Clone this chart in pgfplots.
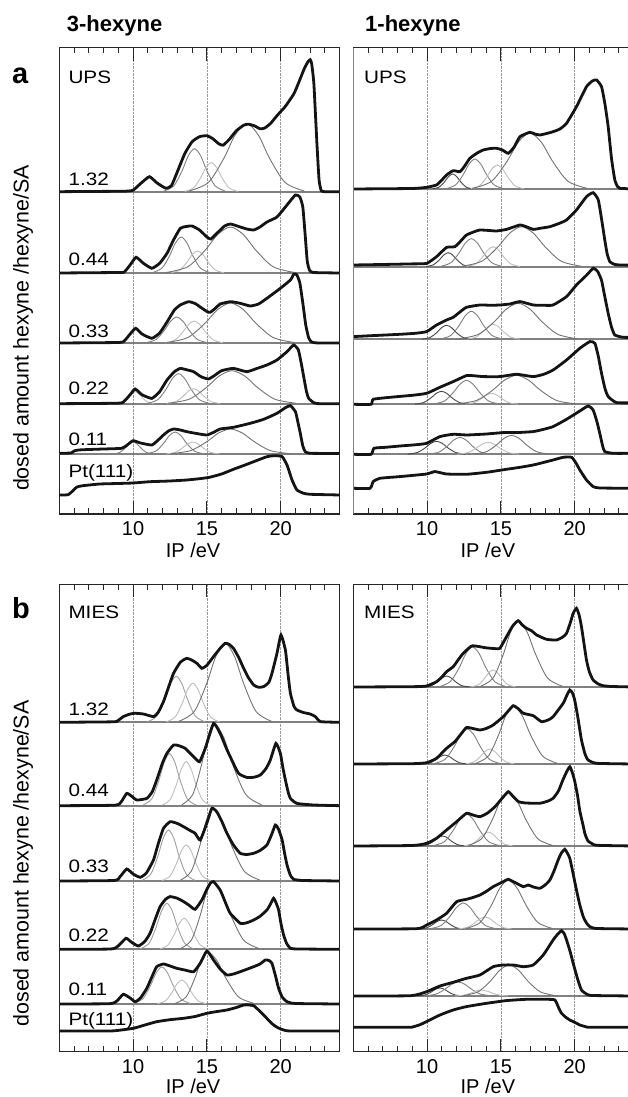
\documentclass[border=0pt]{standalone}
\usepackage{pgfplots}
\pgfplotsset{compat=1.18}
\usepackage{fontspec}
\setmainfont{Liberation Sans}
\newfontfamily\widesans{Liberation Sans}[FakeStretch=1.15]
\newcommand{\lab}{\widesans\fontsize{18}{21}\selectfont}
\tikzset{txt/.style={anchor=base west, inner sep=0pt, font=\lab}}
\begin{document}
\begin{tikzpicture}[x=1pt,y=1pt]
\useasboundingbox (0pt,0pt) rectangle (627pt,1097pt);
\pgfplotsset{
 panel/.style={scale only axis, width=280.4pt, anchor=south west, xmin=5, xmax=24, ymin=0,
   xtick={10,15,20}, minor xtick={6,7,8,9,11,12,13,14,16,17,18,19,21,22,23},
   ytick=\empty, tick align=inside,
   major tick length=13pt, minor tick length=5.7pt,
   xmajorgrids, major grid style={densely dotted, black!40, line width=0.7pt},
   axis line style={black!85, line width=1.3pt},
   tick style={black!85, line width=1pt},
   xticklabel style={font=\fontsize{20}{24}\selectfont, yshift=-4.5pt},
   /pgf/number format/assume math mode=true,
   xlabel={IP /eV},
   xlabel style={font=\fontsize{20}{24}\selectfont, at={(axis description cs:0.477,0)}, anchor=base, yshift=-44pt},
 },
 off/.style={y filter/.expression={y+#1}},
 spec/.style={black!92, line width=2.8pt, smooth, tension=0.3},
 sep/.style={black!50, line width=1.8pt},
 gd/.style={black!72, line width=0.9pt, smooth},
 gm/.style={black!50, line width=0.9pt, smooth},
 gml/.style={black!38, line width=0.9pt, smooth},
 gl/.style={black!26, line width=0.9pt, smooth},
 gb/.style={black!55, line width=0.9pt, smooth},
}
% ---------------- titles and y labels
\node[anchor=base west, inner sep=0pt, font=\bfseries\fontsize{22}{24}\selectfont] at (66.7pt,1065.3pt) {3-hexyne};
\node[anchor=base west, inner sep=0pt, font=\bfseries\fontsize{22}{24}\selectfont] at (365pt,1065.3pt) {1-hexyne};
\node[anchor=base west, inner sep=0pt, font=\bfseries\fontsize{29}{30}\selectfont] at (12pt,1013.7pt) {a};
\node[anchor=base west, inner sep=0pt, font=\bfseries\fontsize{29}{30}\selectfont] at (12pt,478.7pt) {b};
\node[rotate=90, inner sep=0pt, font=\fontsize{21.4}{24}\selectfont] at (23pt,769pt) {dosed amount hexyne /hexyne/SA};
\node[rotate=90, inner sep=0pt, font=\fontsize{21.4}{24}\selectfont] at (23pt,233.5pt) {dosed amount hexyne /hexyne/SA};

% ================= panel a, 3-hexyne UPS
\begin{axis}[panel, at={(59.3pt,583pt)}, height=466.3pt, ymax=466.3]
\addplot[sep] coordinates {(5,322.3) (24,322.3)};
\addplot[sep] coordinates {(5,241) (24,241)};
\addplot[sep] coordinates {(5,171) (24,171)};
\addplot[sep] coordinates {(5,110.3) (24,110.3)};
\addplot[sep] coordinates {(5,60) (24,60)};
% row 1.32
\addplot[gm,off=322.3] coordinates {(12.06,0.5) (12.76,5.8) (13.32,20.9) (13.74,35.9) (14.16,43) (14.58,35.9) (15.0,20.9) (15.56,5.8) (16.26,0.5)};
\addplot[gl,off=322.3] coordinates {(13.5,0.3) (14.1,3.9) (14.58,14.1) (14.94,24.2) (15.3,29) (15.66,24.2) (16.02,14.1) (16.5,3.9) (17.1,0.3)};
\addplot[gb,off=322.3] coordinates {(13.8,0.7) (15.1,9.2) (16.14,33.1) (16.92,56.8) (17.7,68) (18.48,56.8) (19.26,33.1) (20.3,9.2) (21.6,0.7)};
\addplot[spec,off=322.3] coordinates {(5,0) (8,0.3) (9.5,0.5) (10,1.5) (10.5,8) (11.1,15) (11.6,9) (12.2,3.5) (12.6,6) (13.0,20) (13.5,38) (14.0,50) (14.5,55) (15.0,56) (15.4,53) (15.8,48) (16.1,46.5) (16.5,52) (17.0,61) (17.5,66.5) (17.8,67.5) (18.2,66) (18.6,63) (18.9,63.5) (19.3,68) (19.75,76) (20.3,85) (20.9,98) (21.3,112) (21.6,123) (21.85,130) (22.0,132) (22.1,128) (22.25,108) (22.45,50) (22.6,12) (22.75,1) (23,0) (24,0)};
% row 0.44
\addplot[gm,off=241] coordinates {(11.31,0.4) (11.96,4.9) (12.48,17.5) (12.87,30.1) (13.26,36) (13.65,30.1) (14.04,17.5) (14.56,4.9) (15.21,0.4)};
\addplot[gl,off=241] coordinates {(12.57,0.2) (13.17,3) (13.65,10.7) (14.01,18.4) (14.37,22) (14.73,18.4) (15.09,10.7) (15.57,3) (16.17,0.2)};
\addplot[gb,off=241] coordinates {(12.25,0.5) (13.7,6.2) (14.86,22.4) (15.73,38.4) (16.6,46) (17.47,38.4) (18.34,22.4) (19.5,6.2) (20.95,0.5)};
\addplot[spec,off=241] coordinates {(5,0) (9.0,0.5) (9.4,1) (9.8,8) (10.2,15.7) (10.7,9.7) (11.27,4.7) (11.8,9.7) (12.3,19.7) (12.74,33) (13.2,44.7) (13.6,46.5) (14.0,47) (14.5,43) (15.0,36) (15.27,34) (15.7,40) (16.2,47) (16.6,49) (17.26,46) (17.7,44) (18.17,43) (18.6,46) (19.07,51) (19.75,56) (20.43,68) (21.0,78) (21.3,76) (21.5,66) (21.65,40) (21.8,12) (21.95,3) (22.2,0.5) (24,0)};
% row 0.33
\addplot[gm,off=171] coordinates {(10.86,0.3) (11.56,3.5) (12.12,12.7) (12.54,21.7) (12.96,26) (13.38,21.7) (13.8,12.7) (14.36,3.5) (15.06,0.3)};
\addplot[gl,off=171] coordinates {(12.19,0.2) (12.84,3) (13.36,10.7) (13.75,18.4) (14.14,22) (14.53,18.4) (14.92,10.7) (15.44,3) (16.09,0.2)};
\addplot[gb,off=171] coordinates {(12.25,0.4) (13.7,5.4) (14.86,19.5) (15.73,33.4) (16.6,40) (17.47,33.4) (18.34,19.5) (19.5,5.4) (20.95,0.4)};
\addplot[spec,off=171] coordinates {(5,0) (9.0,0.5) (9.4,2) (9.8,9) (10.18,14.7) (10.6,9) (11.27,4.7) (11.8,10) (12.3,21) (12.8,33) (13.2,38) (13.76,41.3) (14.2,39.5) (14.55,36) (15.0,31.5) (15.23,30.7) (15.6,35) (15.9,39) (16.6,41.3) (17.26,39.7) (17.94,37) (18.5,39) (19.07,44.7) (19.98,54.7) (20.66,63) (20.9,69) (21.1,68) (21.3,60) (21.5,40) (21.7,18) (21.9,5) (22.1,1) (22.5,0) (24,0)};
% row 0.22
\addplot[gl,off=110.3] coordinates {(8.88,0.1) (9.3,1.6) (9.64,5.8) (9.89,10) (10.14,12) (10.39,10) (10.64,5.8) (10.98,1.6) (11.4,0.1)};
\addplot[gm,off=110.3] coordinates {(10.98,0.3) (11.68,4.1) (12.24,14.6) (12.66,25.1) (13.08,30) (13.5,25.1) (13.92,14.6) (14.48,4.1) (15.18,0.3)};
\addplot[gl,off=110.3] coordinates {(12.3,0.2) (12.9,2) (13.38,7.3) (13.74,12.5) (14.1,15) (14.46,12.5) (14.82,7.3) (15.3,2) (15.9,0.2)};
\addplot[gb,off=110.3] coordinates {(12.35,0.4) (13.8,4.5) (14.96,16.1) (15.83,27.6) (16.7,33) (17.57,27.6) (18.44,16.1) (19.6,4.5) (21.05,0.4)};
\addplot[spec,off=110.3] coordinates {(5,0) (9.0,0.5) (9.4,2.5) (9.8,9) (10.14,14.7) (10.6,9) (11.27,5.3) (11.8,12) (12.3,23.7) (12.8,32) (13.2,35.3) (13.6,34) (14.1,32) (14.6,27) (15.1,24.7) (15.5,28) (16.0,33) (16.8,35.3) (17.7,32) (18.4,35.3) (19.07,38.7) (19.75,43.7) (20.43,52) (20.88,58.7) (21.2,53.7) (21.4,40) (21.56,27) (21.75,12) (21.9,5.3) (22.24,1) (22.6,0) (24,0)};
% row 0.11
\addplot[gm,off=60] coordinates {(8.65,0.1) (9.1,1.6) (9.46,5.8) (9.73,10) (10.0,12) (10.27,10) (10.54,5.8) (10.9,1.6) (11.35,0.1)};
\addplot[gm,off=60] coordinates {(10.9,0.2) (11.55,3) (12.07,10.7) (12.46,18.4) (12.85,22) (13.24,18.4) (13.63,10.7) (14.15,3) (14.8,0.2)};
\addplot[gl,off=60] coordinates {(12.25,0.1) (12.85,1.6) (13.33,5.8) (13.69,10) (14.05,12) (14.41,10) (14.77,5.8) (15.25,1.6) (15.85,0.1)};
\addplot[gb,off=60] coordinates {(12.55,0.3) (13.9,3.4) (14.98,12.2) (15.79,20.9) (16.6,25) (17.41,20.9) (18.22,12.2) (19.3,3.4) (20.65,0.3)};
\addplot[spec,off=60] coordinates {(5,0.7) (5.8,1) (6.0,3) (6.3,4) (7,4.5) (8,5) (9.23,5.7) (9.6,9) (10.0,13.3) (10.5,11) (11.27,9) (11.7,14) (12.06,19) (12.4,23) (12.74,25) (13.2,24) (13.64,22.3) (14.3,20.5) (15.0,19) (15.5,22) (15.9,25) (16.8,26.7) (17.94,30.7) (18.85,34.7) (19.75,40.7) (20.32,46.3) (20.66,48.3) (21.0,42.3) (21.15,33) (21.33,20.7) (21.5,8) (21.67,2.3) (22.0,0.7) (24,0.5)};
% Pt(111)
\addplot[spec,off=19] coordinates {(5,0) (5.6,0.3) (5.9,4) (6.2,8) (6.6,9.3) (7.76,11) (9,11.5) (10,12) (11.15,13.3) (12.5,14) (13.64,15) (14.5,16.3) (15.18,17.7) (16,21) (16.8,25.7) (17.5,29.5) (18.17,33.3) (19.07,38.3) (19.6,39.3) (20.1,38.3) (20.43,30) (20.77,15) (21.1,5) (21.56,1.7) (22,0.7) (24,0)};
\node[txt] at (axis cs:5.61,430.7) {UPS};
\node[txt] at (axis cs:5.61,328) {1.32};
\node[txt] at (axis cs:5.61,248.3) {0.44};
\node[txt] at (axis cs:5.61,176.7) {0.33};
\node[txt] at (axis cs:5.61,119) {0.22};
\node[txt] at (axis cs:5.61,68.3) {0.11};
\node[txt] at (axis cs:5.61,36.7) {Pt(111)};
\end{axis}

% ================= panel a, 1-hexyne UPS
\begin{axis}[panel, at={(353.3pt,583pt)}, height=466.3pt, ymax=466.3, xlabel style={at={(axis description cs:0.48,0)}}]
\addplot[sep] coordinates {(5,325) (24,325)};
\addplot[sep] coordinates {(5,247.3) (24,247.3)};
\addplot[sep] coordinates {(5,174.7) (24,174.7)};
\addplot[sep] coordinates {(5,109.7) (24,109.7)};
\addplot[sep] coordinates {(5,59.7) (24,59.7)};
% row 1.32
\addplot[gd,off=325] coordinates {(10.38,0.2) (10.83,2) (11.19,7.3) (11.46,12.5) (11.73,15) (12.0,12.5) (12.27,7.3) (12.63,2) (13.08,0.2)};
\addplot[gm,off=325] coordinates {(11.29,0.3) (11.94,4.1) (12.46,14.6) (12.85,25.1) (13.24,30) (13.63,25.1) (14.02,14.6) (14.54,4.1) (15.19,0.3)};
\addplot[gl,off=325] coordinates {(12.95,0.3) (13.55,3.2) (14.03,11.7) (14.39,20) (14.75,24) (15.11,20) (15.47,11.7) (15.95,3.2) (16.55,0.3)};
\addplot[gb,off=325] coordinates {(13.06,0.6) (14.36,7.6) (15.4,27.3) (16.18,46.8) (16.96,56) (17.74,46.8) (18.52,27.3) (19.56,7.6) (20.86,0.6)};
\addplot[spec,off=325] coordinates {(5,0) (9.0,0.5) (9.97,1.7) (10.64,4) (11.0,9) (11.32,14) (11.77,18.3) (12.22,17.3) (12.5,22) (12.9,30.7) (13.4,36) (13.8,39) (14.3,40.5) (14.7,40.7) (15.1,39) (15.5,35.7) (15.9,42) (16.29,52.3) (16.96,56.7) (17.3,55) (17.64,54) (18.1,55.5) (18.54,57.3) (19.0,60) (19.45,65.7) (20.12,82.3) (20.8,102.3) (21.2,108) (21.48,109) (21.82,102.3) (22.05,85) (22.27,62.3) (22.5,30) (22.72,9) (22.9,2.5) (23.06,0.7) (24,0)};
% row 0.44
\addplot[gd,off=247.3] coordinates {(9.93,0.2) (10.43,1.9) (10.83,6.8) (11.13,11.7) (11.43,14) (11.73,11.7) (12.03,6.8) (12.43,1.9) (12.93,0.2)};
\addplot[gm,off=247.3] coordinates {(10.9,0.3) (11.6,3.8) (12.16,13.6) (12.58,23.4) (13.0,28) (13.42,23.4) (13.84,13.6) (14.4,3.8) (15.1,0.3)};
\addplot[gl,off=247.3] coordinates {(12.68,0.2) (13.28,2.7) (13.76,9.7) (14.12,16.7) (14.48,20) (14.84,16.7) (15.2,9.7) (15.68,2.7) (16.28,0.2)};
\addplot[gb,off=247.3] coordinates {(12.35,0.4) (13.7,5.4) (14.78,19.5) (15.59,33.4) (16.4,40) (17.21,33.4) (18.02,19.5) (19.1,5.4) (20.45,0.4)};
\addplot[spec,off=247.3] coordinates {(5,1.7) (7,2.2) (9.0,2.8) (9.97,3.3) (10.64,10) (11.32,19.3) (11.88,20) (12.3,26) (12.67,31.7) (13.2,35) (13.58,36.7) (14.2,36.2) (14.7,35.7) (15.38,37.3) (16.29,41.7) (16.8,39.5) (17.19,37.3) (17.7,38.5) (18.32,40) (18.9,43) (19.45,46.7) (20.12,56.7) (20.8,70) (21.25,74) (21.6,66.7) (21.85,45) (22.04,26.7) (22.2,13) (22.38,5) (22.7,2.3) (23.06,1.7) (24,1.5)};
% row 0.33
\addplot[gd,off=174.7] coordinates {(9.67,0.2) (10.22,1.9) (10.66,6.8) (10.99,11.7) (11.32,14) (11.65,11.7) (11.98,6.8) (12.42,1.9) (12.97,0.2)};
\addplot[gm,off=174.7] coordinates {(10.9,0.3) (11.6,3.8) (12.16,13.6) (12.58,23.4) (13.0,28) (13.42,23.4) (13.84,13.6) (14.4,3.8) (15.1,0.3)};
\addplot[gl,off=174.7] coordinates {(12.68,0.2) (13.28,2) (13.76,7.3) (14.12,12.5) (14.48,15) (14.84,12.5) (15.2,7.3) (15.68,2) (16.28,0.2)};
\addplot[gb,off=174.7] coordinates {(12.12,0.4) (13.47,4.9) (14.55,17.5) (15.36,30.1) (16.17,36) (16.98,30.1) (17.79,17.5) (18.87,4.9) (20.22,0.4)};
\addplot[spec,off=174.7] coordinates {(5,2.7) (6.5,3.8) (8.16,5) (9.2,6) (9.97,7.7) (10.64,14.3) (11.32,19.3) (11.77,22) (12.2,27) (12.67,32) (13.58,34.3) (14.3,34) (14.93,34.3) (15.61,35.3) (16.29,37.7) (17.19,34.3) (17.9,34) (18.54,34.3) (19.45,42.7) (20.12,54.3) (20.8,64) (21.26,71) (21.55,68) (21.82,59) (22.05,42) (22.27,26) (22.5,12) (22.72,4.3) (23.28,2) (24,2)};
% row 0.22
\addplot[gd,off=109.7] coordinates {(9.18,0.1) (9.78,1.8) (10.26,6.3) (10.62,10.9) (10.98,13) (11.34,10.9) (11.7,6.3) (12.18,1.8) (12.78,0.1)};
\addplot[gm,off=109.7] coordinates {(10.42,0.3) (11.17,3.2) (11.77,11.7) (12.22,20) (12.67,24) (13.12,20) (13.57,11.7) (14.17,3.2) (14.92,0.3)};
\addplot[gl,off=109.7] coordinates {(12.57,0.1) (13.17,1.5) (13.65,5.4) (14.01,9.2) (14.37,11) (14.73,9.2) (15.09,5.4) (15.57,1.5) (16.17,0.1)};
\addplot[gb,off=109.7] coordinates {(12.01,0.3) (13.36,3.9) (14.44,14.1) (15.25,24.2) (16.06,29) (16.87,24.2) (17.68,14.1) (18.76,3.9) (20.11,0.3)};
\addplot[spec,off=109.7] coordinates {(5,0) (6.2,0) (6.35,5) (7.5,7) (9.0,9) (9.97,11) (10.87,17) (11.77,22.7) (12.67,28.7) (13.2,28.5) (13.8,27.7) (14.93,27.7) (16.06,30) (17.19,27.7) (17.9,30) (18.54,34.3) (19.45,44.3) (20.35,56) (21.03,62.7) (21.37,61) (21.6,48) (21.82,31) (22.05,16) (22.27,7.7) (22.83,1.7) (24,1.5)};
% row 0.11
\addplot[gd,off=59.7] coordinates {(8.69,0.1) (9.34,1.8) (9.86,6.3) (10.25,10.9) (10.64,13) (11.03,10.9) (11.42,6.3) (11.94,1.8) (12.59,0.1)};
\addplot[gm,off=59.7] coordinates {(10.12,0.2) (10.82,2.3) (11.38,8.3) (11.8,14.2) (12.22,17) (12.64,14.2) (13.06,8.3) (13.62,2.3) (14.32,0.2)};
\addplot[gl,off=59.7] coordinates {(12.04,0.1) (12.74,1.6) (13.3,5.8) (13.72,10) (14.14,12) (14.56,10) (14.98,5.8) (15.54,1.6) (16.24,0.1)};
\addplot[gb,off=59.7] coordinates {(13.17,0.2) (14.02,2.6) (14.7,9.3) (15.21,15.9) (15.72,19) (16.23,15.9) (16.74,9.3) (17.42,2.6) (18.27,0.2)};
\addplot[spec,off=59.7] coordinates {(5,0) (6.2,0) (6.4,6) (7.2,7) (8.16,8.3) (9.2,9.5) (9.97,11) (10.87,17.7) (11.77,20) (12.67,19.3) (13.4,19.8) (14.03,20.3) (15.16,21.7) (16.06,21.7) (17.19,22.7) (17.9,25) (18.54,27.7) (19.45,35) (20.35,43.3) (20.91,48.3) (21.25,44.3) (21.5,33) (21.7,21) (21.9,8) (22.04,2.7) (22.6,1) (24,1)};
% Pt(111)
\addplot[spec,off=25.7] coordinates {(5,0) (6.13,0) (6.35,6.7) (6.8,10) (8.16,11.7) (9.97,14.3) (10.53,16.7) (11.32,14.3) (12.67,14) (14.03,16) (15.38,19) (16.3,21) (17.19,23.3) (18.54,28.3) (19.22,31) (19.79,31) (20.1,25) (20.35,18.3) (20.8,8.3) (21.25,1.7) (21.7,0.3) (24,0)};
\node[txt] at (axis cs:5.72,430.7) {UPS};
\draw[black!30, line width=1pt] (axis description cs:0,1) -- (axis description cs:0,-0.068) -- (axis description cs:1.2,-0.068);
\end{axis}

% ================= panel b, 3-hexyne MIES
\begin{axis}[panel, at={(59.3pt,45.3pt)}, height=467.4pt, ymax=467.4, xlabel style={yshift=2pt}]
\addplot[sep] coordinates {(5,329.4) (24,329.4)};
\addplot[sep] coordinates {(5,246) (24,246)};
\addplot[sep] coordinates {(5,170.7) (24,170.7)};
\addplot[sep] coordinates {(5,102.4) (24,102.4)};
\addplot[sep] coordinates {(5,47.7) (24,47.7)};
% row 1.32
\addplot[gml,off=329.4] coordinates {(10.97,0.5) (11.62,6.2) (12.14,22.4) (12.53,38.4) (12.92,46) (13.31,38.4) (13.7,22.4) (14.22,6.2) (14.87,0.5)};
\addplot[gl,off=329.4] coordinates {(12.25,0.4) (12.85,5.3) (13.33,19) (13.69,32.6) (14.05,39) (14.41,32.6) (14.77,19) (15.25,5.3) (15.85,0.4)};
\addplot[gb,off=329.4] coordinates {(13.09,0.9) (14.14,10.7) (14.98,38.5) (15.61,66) (16.24,79) (16.87,66) (17.5,38.5) (18.34,10.7) (19.39,0.9)};
\addplot[spec,off=329.4] coordinates {(5,0) (8.67,0.5) (9.0,2) (9.34,5.7) (9.8,8.3) (10.14,9) (10.7,8.3) (11.38,5.7) (11.7,10) (12.06,20.7) (12.4,35) (12.74,49) (13.2,60) (13.64,64) (14.0,62) (14.32,59) (14.66,54) (15.0,57) (15.45,65.7) (15.9,74) (16.24,79) (16.5,78) (16.8,74) (17.15,65) (17.49,54) (17.8,45) (18.17,37.3) (18.5,35) (18.85,35.7) (19.2,40) (19.41,49) (19.75,69) (20.02,87.3) (20.32,72.3) (20.5,48) (20.66,29) (20.9,16) (21.1,12.3) (21.56,9.7) (22.0,8.3) (22.35,5.7) (22.7,0.7) (24,0)};
% row 0.44
\addplot[gml,off=246] coordinates {(10.67,0.6) (11.27,7) (11.75,25.3) (12.11,43.4) (12.47,52) (12.83,43.4) (13.19,25.3) (13.67,7) (14.27,0.6)};
\addplot[gl,off=246] coordinates {(11.95,0.5) (12.5,5.9) (12.94,21.4) (13.27,36.7) (13.6,44) (13.93,36.7) (14.26,21.4) (14.7,5.9) (15.25,0.5)};
\addplot[gb,off=246] coordinates {(13.31,0.9) (14.04,11.1) (14.62,39.9) (15.06,68.5) (15.5,82) (16.14,68.5) (16.78,39.9) (17.64,11.1) (18.71,0.9)};
\addplot[spec,off=246] coordinates {(5,0) (8.78,0.5) (9.2,4) (9.57,12.3) (9.9,9.5) (10.25,5.7) (10.93,7.3) (11.3,14) (11.6,25.7) (12.0,43) (12.29,52.3) (12.74,60.7) (13.1,60) (13.53,57.3) (14.1,49) (14.5,44) (14.89,57.3) (15.2,72) (15.45,82.3) (15.7,78) (16.0,69) (16.3,58) (16.58,49) (17.15,32.3) (17.71,28.3) (18.2,28.5) (18.62,30.7) (19.0,37) (19.3,45.7) (19.68,62.3) (19.98,52.3) (20.15,38) (20.32,25.7) (20.5,14) (20.66,7.3) (21.1,2.3) (22.24,0.7) (24,0)};
% row 0.33
\addplot[gml,off=170.7] coordinates {(10.6,0.6) (11.2,6.9) (11.68,24.8) (12.04,42.6) (12.4,51) (12.76,42.6) (13.12,24.8) (13.6,6.9) (14.2,0.6)};
\addplot[gl,off=170.7] coordinates {(11.95,0.4) (12.5,4.9) (12.94,17.5) (13.27,30.1) (13.6,36) (13.93,30.1) (14.26,17.5) (14.7,4.9) (15.25,0.4)};
\addplot[gb,off=170.7] coordinates {(13.21,0.8) (13.94,9.7) (14.52,35.1) (14.96,60.1) (15.4,72) (16.04,60.1) (16.68,35.1) (17.54,9.7) (18.61,0.8)};
\addplot[spec,off=170.7] coordinates {(5,0) (8.7,0.5) (9.1,4) (9.57,12) (10.0,7) (10.48,3.7) (10.9,8) (11.38,21) (11.7,37) (12.06,52.7) (12.51,59.3) (13.0,57.5) (13.42,54.3) (13.8,51) (14.2,47.7) (14.55,41) (15.0,58) (15.34,72.7) (15.68,69) (16.0,60) (16.36,47.7) (16.8,36) (17.26,27.7) (17.7,26.5) (18.17,27.7) (18.6,30.5) (19.07,36) (19.4,47) (19.64,56) (19.85,52) (20.1,41) (20.25,29) (20.43,16) (20.65,6) (20.88,1.7) (21.5,0.5) (24,0)};
% row 0.22
\addplot[gml,off=102.4] coordinates {(10.49,0.5) (11.09,6.2) (11.57,22.4) (11.93,38.4) (12.29,46) (12.65,38.4) (13.01,22.4) (13.49,6.2) (14.09,0.5)};
\addplot[gl,off=102.4] coordinates {(11.81,0.3) (12.36,4.2) (12.8,15.1) (13.13,25.9) (13.46,31) (13.79,25.9) (14.12,15.1) (14.56,4.2) (15.11,0.3)};
\addplot[gb,off=102.4] coordinates {(13.21,0.7) (13.94,9) (14.52,32.6) (14.96,55.9) (15.4,67) (16.03,55.9) (16.66,32.6) (17.5,9) (18.55,0.7)};
\addplot[spec,off=102.4] coordinates {(5,0) (8.5,0.3) (9.0,3.5) (9.52,11) (9.9,7) (10.36,3.3) (10.8,8) (11.15,16) (11.5,30) (11.83,42.7) (12.2,50) (12.51,52.7) (13.0,51) (13.42,47.7) (13.8,44) (14.2,40) (14.66,49.3) (15.0,60) (15.23,66) (15.45,67.7) (15.9,59.3) (16.25,47) (16.58,36) (17.26,26) (17.7,26.5) (18.17,29.3) (18.6,33) (19.07,39.3) (19.3,45) (19.52,51) (19.7,46) (19.86,39.3) (20.03,25) (20.2,14.3) (20.4,6) (20.66,1) (21.2,0.3) (24,0)};
% row 0.11
\addplot[gml,off=47.7] coordinates {(10.0,0.4) (10.65,5) (11.17,18) (11.56,30.9) (11.95,37) (12.34,30.9) (12.73,18) (13.25,5) (13.9,0.4)};
\addplot[gl,off=47.7] coordinates {(11.65,0.3) (12.2,3.2) (12.64,11.7) (12.97,20) (13.3,24) (13.63,20) (13.96,11.7) (14.4,3.2) (14.95,0.3)};
\addplot[gb,off=47.7] coordinates {(12.86,0.6) (13.59,7) (14.17,25.3) (14.61,43.4) (15.05,52) (15.68,43.4) (16.31,25.3) (17.15,7) (18.2,0.6)};
\addplot[spec,off=47.7] coordinates {(5,0) (8.4,0.3) (8.9,3) (9.34,9.7) (9.8,6) (10.14,2.3) (10.5,6) (10.93,15.7) (11.3,28) (11.6,37.3) (12.06,40) (12.5,38) (12.96,35.7) (13.5,34) (14.1,32.3) (14.55,40.7) (15.0,53) (15.45,44) (15.9,35) (16.36,29) (16.8,30) (17.26,32.3) (18.17,37.3) (18.6,40) (18.96,44) (19.2,43.5) (19.41,40.7) (19.65,28) (19.86,15.7) (20.1,7) (20.43,2.3) (21,0.5) (24,0)};
% Pt(111)
\addplot[spec,off=20.7] coordinates {(5,0) (8.44,0) (9.2,1) (10.02,2.7) (10.8,6) (11.6,9.3) (12.5,11.3) (13.42,12.7) (14.2,14.5) (15.0,17.7) (15.7,19.5) (16.36,21) (17.0,23.5) (17.49,26) (17.71,26.2) (18.17,25.3) (18.5,21) (18.85,16) (19.2,10.5) (19.52,6) (19.85,3) (20.2,1) (20.66,0) (24,0)};
\node[txt] at (axis cs:5.61,432.7) {MIES};
\node[txt] at (axis cs:5.61,336) {1.32};
\node[txt] at (axis cs:5.61,255) {0.44};
\node[txt] at (axis cs:5.61,179.4) {0.33};
\node[txt] at (axis cs:5.61,110) {0.22};
\node[txt] at (axis cs:5.61,55.7) {0.11};
\node[txt] at (axis cs:5.61,25.7) {Pt(111)};
\end{axis}

% ================= panel b, 1-hexyne MIES
\begin{axis}[panel, at={(353.3pt,45.3pt)}, height=467.4pt, ymax=467.4, xlabel style={at={(axis description cs:0.48,0)}, yshift=2pt}]
\addplot[sep] coordinates {(5,364.7) (24,364.7)};
\addplot[sep] coordinates {(5,287.7) (24,287.7)};
\addplot[sep] coordinates {(5,205.7) (24,205.7)};
\addplot[sep] coordinates {(5,122.7) (24,122.7)};
\addplot[sep] coordinates {(5,55.7) (24,55.7)};
% row 1.32
\addplot[gd,off=364.7] coordinates {(9.82,0.1) (10.32,1.5) (10.72,5.4) (11.02,9.2) (11.32,11) (11.62,9.2) (11.92,5.4) (12.32,1.5) (12.82,0.1)};
\addplot[gm,off=364.7] coordinates {(10.83,0.4) (11.58,5.4) (12.18,19.5) (12.63,33.4) (13.08,40) (13.53,33.4) (13.98,19.5) (14.58,5.4) (15.33,0.4)};
\addplot[gl,off=364.7] coordinates {(12.98,0.2) (13.48,2.3) (13.88,8.3) (14.18,14.2) (14.48,17) (14.78,14.2) (15.08,8.3) (15.48,2.3) (15.98,0.2)};
\addplot[gb,off=364.7] coordinates {(13.62,0.7) (14.47,8.9) (15.15,32.1) (15.66,55.1) (16.17,66) (16.77,55.1) (17.37,32.1) (18.17,8.9) (19.17,0.7)};
\addplot[spec,off=364.7] coordinates {(5,0) (9.0,0.3) (9.97,1) (10.64,5.3) (11.0,10) (11.32,15.3) (11.77,20.3) (12.1,27) (12.45,33.7) (13.01,41) (13.5,40.5) (13.92,39.3) (14.5,38.5) (14.93,38.7) (15.38,50.3) (15.8,61) (16.17,66.3) (16.45,62) (16.74,58.7) (17.1,56) (17.42,52) (18.09,47.7) (18.77,47) (19.2,50) (19.45,53.7) (19.7,64) (19.9,73.7) (20.12,78.7) (20.3,72) (20.46,60.3) (20.8,27) (21.0,15) (21.25,7) (21.6,3) (21.93,1.3) (22.5,0.5) (24,0)};
% row 0.44
\addplot[gd,off=287.7] coordinates {(9.7,0.1) (10.2,1.2) (10.6,4.4) (10.9,7.5) (11.2,9) (11.5,7.5) (11.8,4.4) (12.2,1.2) (12.7,0.1)};
\addplot[gm,off=287.7] coordinates {(10.47,0.4) (11.22,4.7) (11.82,17) (12.27,29.2) (12.72,35) (13.17,29.2) (13.62,17) (14.22,4.7) (14.97,0.4)};
\addplot[gl,off=287.7] coordinates {(12.61,0.2) (13.16,2) (13.6,7.3) (13.93,12.5) (14.26,15) (14.59,12.5) (14.92,7.3) (15.36,2) (15.91,0.2)};
\addplot[gb,off=287.7] coordinates {(13.29,0.6) (14.14,7.8) (14.82,28.2) (15.33,48.4) (15.84,58) (16.44,48.4) (17.04,28.2) (17.84,7.8) (18.84,0.6)};
\addplot[spec,off=287.7] coordinates {(5,0) (9.0,0.3) (9.97,1.3) (10.64,5.7) (11.32,15.7) (11.88,22.3) (12.3,30) (12.67,36.5) (13.1,35.5) (13.58,34) (14.0,35.5) (14.48,39) (15.16,47.3) (15.5,53) (15.84,58.3) (16.2,55) (16.52,50.7) (17.19,48.3) (17.75,42.3) (18.2,44) (18.54,47.3) (19.22,60.7) (19.45,68) (19.67,74) (19.85,71) (20.0,64) (20.2,48) (20.46,24) (20.7,10) (20.91,4) (21.48,0.7) (24,0)};
% row 0.33
\addplot[gd,off=205.7] coordinates {(9.55,0.1) (10.05,1.4) (10.45,4.9) (10.75,8.4) (11.05,10) (11.35,8.4) (11.65,4.9) (12.05,1.4) (12.55,0.1)};
\addplot[gm,off=205.7] coordinates {(10.42,0.4) (11.17,4.3) (11.77,15.6) (12.22,26.7) (12.67,32) (13.12,26.7) (13.57,15.6) (14.17,4.3) (14.92,0.4)};
\addplot[gl,off=205.7] coordinates {(12.49,0.2) (13.04,1.9) (13.48,6.8) (13.81,11.7) (14.14,14) (14.47,11.7) (14.8,6.8) (15.24,1.9) (15.79,0.2)};
\addplot[gb,off=205.7] coordinates {(12.8,0.6) (13.7,7.3) (14.42,26.3) (14.96,45.1) (15.5,54) (16.1,45.1) (16.7,26.3) (17.5,7.3) (18.5,0.6)};
\addplot[spec,off=205.7] coordinates {(5,0) (9.0,0.5) (9.97,2.7) (10.64,7.7) (11.32,16) (12.0,24.3) (12.67,32.7) (13.1,31) (13.58,29.3) (14.1,33) (14.6,39.3) (15.1,48) (15.5,54.3) (15.8,50) (16.2,44.3) (16.7,43) (17.64,42.7) (18.2,45) (18.54,47.7) (18.9,55) (19.2,66) (19.45,74) (19.67,79.3) (19.85,73) (20.0,65) (20.2,50) (20.35,35) (20.58,20) (20.7,12) (20.9,5) (21.14,2.7) (21.5,0.7) (24,0)};
% row 0.22
\addplot[gd,off=122.7] coordinates {(9.48,0.1) (9.98,1.2) (10.38,4.4) (10.68,7.5) (10.98,9) (11.28,7.5) (11.58,4.4) (11.98,1.2) (12.48,0.1)};
\addplot[gm,off=122.7] coordinates {(10.2,0.3) (10.95,3.5) (11.55,12.7) (12.0,21.7) (12.45,26) (12.9,21.7) (13.35,12.7) (13.95,3.5) (14.7,0.3)};
\addplot[gl,off=122.7] coordinates {(12.12,0.1) (12.72,1.6) (13.2,5.8) (13.56,10) (13.92,12) (14.28,10) (14.64,5.8) (15.12,1.6) (15.72,0.1)};
\addplot[gb,off=122.7] coordinates {(12.65,0.5) (13.6,6.6) (14.36,23.9) (14.93,40.9) (15.5,49) (16.1,40.9) (16.7,23.9) (17.5,6.6) (18.5,0.5)};
\addplot[spec,off=122.7] coordinates {(5,0) (9.3,0.3) (9.97,4) (10.64,9) (11.32,15.7) (12.0,27.3) (12.67,29.7) (13.1,31.5) (13.58,34) (14.0,37.5) (14.48,42.3) (15.16,47.3) (15.5,49.7) (16.06,45.7) (16.52,42.3) (16.85,44) (17.2,42) (17.64,40.7) (18.0,44) (18.32,49) (18.6,58) (18.88,69) (19.1,76) (19.33,79.7) (19.5,76) (19.67,70.7) (19.9,55) (20.12,39) (20.35,24) (20.58,12.3) (20.8,6) (21.03,2.3) (21.5,0.5) (24,0)};
% row 0.11
\addplot[gd,off=55.7] coordinates {(9.37,0.1) (9.87,1.1) (10.27,3.9) (10.57,6.7) (10.87,8) (11.17,6.7) (11.47,3.9) (11.87,1.1) (12.37,0.1)};
\addplot[gm,off=55.7] coordinates {(9.86,0.2) (10.61,1.9) (11.21,6.8) (11.66,11.7) (12.11,14) (12.56,11.7) (13.01,6.8) (13.61,1.9) (14.36,0.2)};
\addplot[gl,off=55.7] coordinates {(11.89,0.1) (12.49,0.8) (12.97,2.9) (13.33,5) (13.69,6) (14.05,5) (14.41,2.9) (14.89,0.8) (15.49,0.1)};
\addplot[gb,off=55.7] coordinates {(12.41,0.3) (13.46,4.2) (14.3,15.1) (14.93,25.9) (15.56,31) (16.19,25.9) (16.82,15.1) (17.66,4.2) (18.71,0.3)};
\addplot[spec,off=55.7] coordinates {(5,0) (8.9,0.3) (9.97,4.3) (10.87,10) (11.77,13.7) (12.67,17.7) (13.58,21) (14.48,29.3) (15.16,31) (15.84,31) (16.52,29.3) (17.19,31) (17.87,41) (18.54,56) (18.8,61) (19.11,65.3) (19.3,62) (19.45,56) (19.7,44) (19.9,32.7) (20.2,17) (20.46,6) (20.8,2) (21.2,0.5) (24,0)};
% Pt(111)
\addplot[spec,off=24.4] coordinates {(5,0) (8.7,0) (9.06,0.5) (9.5,2.5) (9.97,5.7) (10.87,12.3) (11.77,17.3) (12.67,20.7) (14.03,24) (15.38,26.7) (16.74,28) (18.09,28) (18.66,27.3) (18.9,20) (19.11,14) (19.4,10) (19.67,7.3) (20.0,5) (20.35,2.3) (20.7,0.8) (21.03,0) (24,0)};
\node[txt] at (axis cs:5.72,432.7) {MIES};
\end{axis}
\end{tikzpicture}
\end{document}
